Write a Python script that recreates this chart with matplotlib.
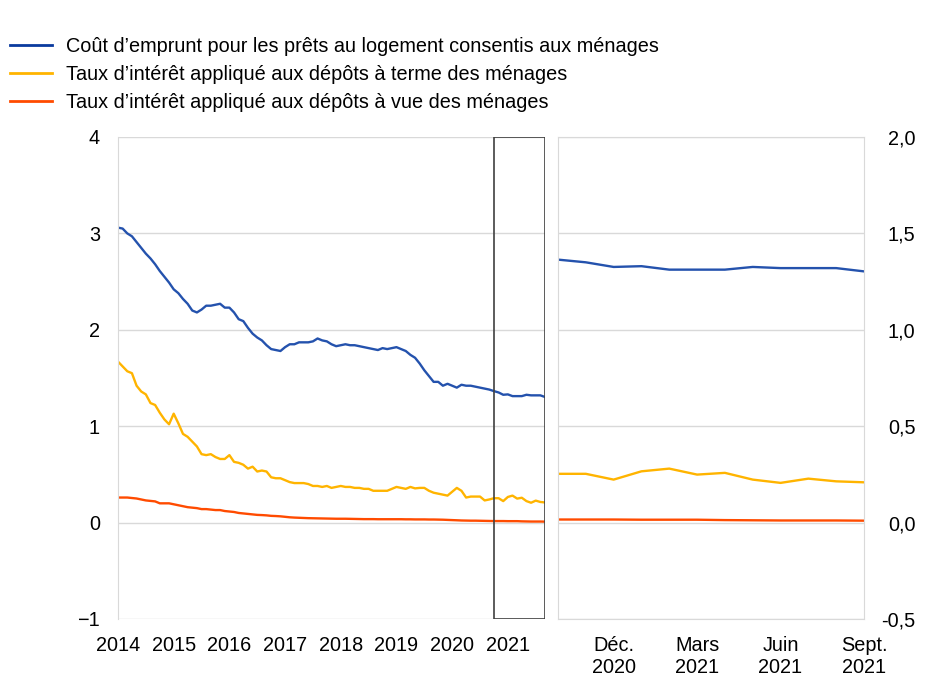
import matplotlib
matplotlib.use("Agg")
import matplotlib.pyplot as plt
from matplotlib.lines import Line2D
import numpy as np

plt.rcParams['font.family'] = ['Liberation Sans', 'DejaVu Sans']

# ---- data (monthly, Jan 2014 .. Sept 2021) ----
year_labels = ['2014', '2015', '2016', '2017', '2018', '2019', '2020', '2021']
zoom_labels = ['Déc.\n2020', 'Mars\n2021', 'Juin\n2021', 'Sept.\n2021']

cout_emprunt = [
    3.06, 3.05, 3.00, 2.97, 2.91, 2.85, 2.79, 2.74, 2.68, 2.61, 2.55, 2.49,
    2.42, 2.38, 2.32, 2.27, 2.20, 2.18, 2.21, 2.25, 2.25, 2.26, 2.27, 2.23,
    2.23, 2.18, 2.11, 2.09, 2.02, 1.96, 1.92, 1.89, 1.84, 1.80, 1.79, 1.78,
    1.82, 1.85, 1.85, 1.87, 1.87, 1.87, 1.88, 1.91, 1.89, 1.88, 1.85, 1.83,
    1.84, 1.85, 1.84, 1.84, 1.83, 1.82, 1.81, 1.80, 1.79, 1.81, 1.80, 1.81,
    1.82, 1.80, 1.78, 1.74, 1.71, 1.65, 1.58, 1.52, 1.46, 1.46, 1.42, 1.44,
    1.42, 1.40, 1.43, 1.42, 1.42, 1.41, 1.40, 1.39, 1.38,
    1.364, 1.35, 1.326, 1.33, 1.312, 1.312, 1.312, 1.326, 1.32, 1.32, 1.32, 1.303,
]
depots_terme = [
    1.67, 1.62, 1.57, 1.55, 1.42, 1.36, 1.33, 1.24, 1.22, 1.14, 1.07, 1.02,
    1.13, 1.03, 0.92, 0.89, 0.84, 0.79, 0.71, 0.70, 0.71, 0.68, 0.66, 0.66,
    0.70, 0.63, 0.62, 0.60, 0.56, 0.58, 0.53, 0.54, 0.53, 0.47, 0.46, 0.46,
    0.44, 0.42, 0.41, 0.41, 0.41, 0.40, 0.38, 0.38, 0.37, 0.38, 0.36, 0.37,
    0.38, 0.37, 0.37, 0.36, 0.36, 0.35, 0.35, 0.33, 0.33, 0.33, 0.33, 0.35,
    0.37, 0.36, 0.35, 0.37, 0.355, 0.36, 0.36, 0.33, 0.31, 0.30, 0.29, 0.28,
    0.32, 0.36, 0.33, 0.26, 0.27, 0.27, 0.27, 0.23, 0.24,
    0.253, 0.253, 0.223, 0.266, 0.28, 0.249, 0.258, 0.223, 0.206, 0.228, 0.214, 0.209,
]
depots_vue = [
    0.26, 0.26, 0.26, 0.255, 0.25, 0.24, 0.23, 0.225, 0.22, 0.20, 0.20, 0.20,
    0.19, 0.18, 0.17, 0.16, 0.155, 0.15, 0.14, 0.14, 0.135, 0.13, 0.13, 0.12,
    0.115, 0.11, 0.10, 0.095, 0.09, 0.085, 0.08, 0.078, 0.075, 0.07, 0.068, 0.065,
    0.06, 0.055, 0.052, 0.05, 0.048, 0.046, 0.045, 0.044, 0.043, 0.042, 0.041, 0.04,
    0.04, 0.04, 0.039, 0.038, 0.037, 0.036, 0.036, 0.036, 0.035, 0.035, 0.035, 0.035,
    0.035, 0.035, 0.034, 0.034, 0.033, 0.033, 0.033, 0.032, 0.032, 0.031, 0.03, 0.028,
    0.026, 0.024, 0.022, 0.021, 0.02, 0.02, 0.019, 0.018, 0.017,
    0.016, 0.016, 0.016, 0.015, 0.015, 0.015, 0.013, 0.012, 0.011, 0.011, 0.011, 0.01,
]
labels = ['Coût d\u2019emprunt pour les prêts au logement consentis aux ménages',
          'Taux d\u2019intérêt appliqué aux dépôts à terme des ménages',
          'Taux d\u2019intérêt appliqué aux dépôts à vue des ménages']
colors = ['#2452ad', '#ffb400', '#ff4b00']
legend_colors = ['#0a3a9e', '#ffb400', '#ff4b00']
zoom_start = 81  # Oct 2020

series = [cout_emprunt, depots_terme, depots_vue]
n = len(cout_emprunt)
x = np.arange(n)

W, H = 937, 684
fig = plt.figure(figsize=(W / 100, H / 100), dpi=100)
grid_c = '#d9d9d9'
fs = 14.3

def fx(px):
    return px / W

def fy(py):
    return 1 - py / H

ax1 = fig.add_axes([fx(118), fy(619), fx(545 - 118), (619 - 137) / H])
ax2 = fig.add_axes([fx(558), fy(619), fx(864 - 558), (619 - 137) / H])

for s, c in zip(series, colors):
    ax1.plot(x, s, color=c, lw=1.7)
ax1.set_xlim(0, n - 1)
ax1.set_ylim(-1, 4)
ax1.set_yticks([-1, 0, 1, 2, 3, 4])
ax1.set_yticklabels(['\u22121', '0', '1', '2', '3', '4'])
ax1.set_xticks(np.arange(0, n, 12))
ax1.set_xticklabels(year_labels)
ax1.grid(axis='y', color=grid_c, lw=1)
ax1.set_axisbelow(True)
for sp in ['top', 'right', 'bottom']:
    ax1.spines[sp].set_visible(False)
ax1.spines['left'].set_color(grid_c)
ax1.tick_params(length=0, labelsize=fs, colors='#000000')
ax1.tick_params(axis='y', pad=13)
ax1.tick_params(axis='x', pad=12)
ax1.axvspan(zoom_start, n - 1, ymin=0, ymax=1, fill=False, edgecolor='#404040', lw=1.2, zorder=5)

xz = np.arange(n - zoom_start)
for s, c in zip(series, colors):
    ax2.plot(xz, s[zoom_start:], color=c, lw=1.7)
ax2.set_xlim(0, len(xz) - 1)
ax2.set_ylim(-0.5, 2.0)
ax2.set_yticks([-0.5, 0, 0.5, 1.0, 1.5, 2.0])
ax2.set_yticklabels(['-0,5', '0,0', '0,5', '1,0', '1,5', '2,0'])
ax2.yaxis.tick_right()
for lbl in ax2.get_yticklabels():
    lbl.set_horizontalalignment('right')
ax2.set_xticks([2, 5, 8, 11])
ax2.set_xticklabels(zoom_labels, linespacing=1.25)
ax2.grid(axis='y', color=grid_c, lw=1)
ax2.set_axisbelow(True)
for sp in ax2.spines.values():
    sp.set_color(grid_c)
ax2.tick_params(length=0, labelsize=fs, colors='#000000')
ax2.tick_params(axis='y', pad=37)
ax2.tick_params(axis='x', pad=12)

handles = [Line2D([], [], color=c, lw=2) for c in legend_colors]
fig.legend(handles=handles, labels=labels, loc='upper left',
           bbox_to_anchor=(fx(10), fy(37)), frameon=False, fontsize=fs,
           handlelength=2.1, handletextpad=0.72, labelspacing=0.45, borderpad=0,
           borderaxespad=0)

fig.savefig('out.png', dpi=100)
